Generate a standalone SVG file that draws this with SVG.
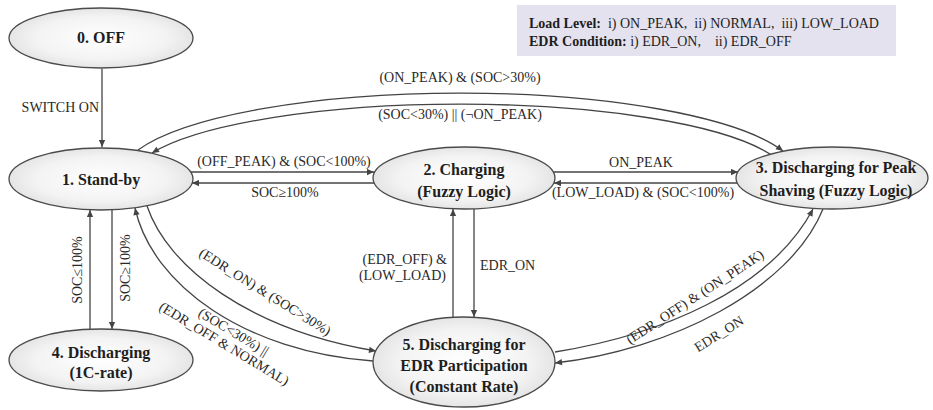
<svg xmlns="http://www.w3.org/2000/svg" width="933" height="410" viewBox="0 0 933 410" font-family="'Liberation Serif', 'DejaVu Serif', serif">
  <style>
    text { font-family: 'Liberation Serif', 'DejaVu Serif', serif; }
    .node ellipse { fill: url(#nodeFill); stroke: #4a4a4a; stroke-width: 1.3; }
    .node text { font-weight: bold; font-size: 16px; fill: #1e1e1e; text-anchor: middle; }
    .edges path { fill: none; stroke: #444; stroke-width: 1.3; marker-end: url(#arrow); }
    .lbl text { font-size: 14px; fill: #2a2a2a; }
    .mid { text-anchor: middle; }
    .end { text-anchor: end; }
    .legend text { font-size: 14px; fill: #1e1e1e; white-space: pre; }
    .legend .b { font-weight: bold; }
  </style>
  <defs>
    <radialGradient id="nodeFill" cx="50%" cy="50%" r="55%">
      <stop offset="0" stop-color="#ffffff"/>
      <stop offset="0.65" stop-color="#f3f3f3"/>
      <stop offset="1" stop-color="#e0e0e0"/>
    </radialGradient>
    <marker id="arrow" viewBox="0 0 10 10" refX="10" refY="5" markerWidth="9" markerHeight="7" markerUnits="userSpaceOnUse" orient="auto">
      <path d="M0,0.5 L10,5 L0,9.5 z" fill="#444"/>
    </marker>
  </defs>

  <rect width="933" height="410" fill="#ffffff"/>

  <!-- legend -->
  <g id="legend" class="legend">
    <rect x="517" y="5" width="379" height="51" fill="#e5e2ef"/>
    <text x="529" y="28" xml:space="preserve"><tspan class="b">Load Level:</tspan>  i) ON_PEAK,  ii) NORMAL,  iii) LOW_LOAD</text>
    <text x="529" y="46" xml:space="preserve"><tspan class="b">EDR Condition:</tspan> i) EDR_ON,    ii) EDR_OFF</text>
  </g>

  <!-- connectors -->
  <g id="connectors" class="edges">
    <path d="M102,69 L102,147"/>
    <path d="M190,172 L374,172"/>
    <path d="M374,183 L192,183"/>
    <path d="M553,172 L738,172"/>
    <path d="M737,183 L554,183"/>
    <path d="M138,150 A340,84 0 0 1 783,151"/>
    <path d="M770,154 A330,76 0 0 0 152,153"/>
    <path d="M112,210 L112,329"/>
    <path d="M90,329 L90,210"/>
    <path d="M474,209 L474,317"/>
    <path d="M453,317 L453,209"/>
    <path d="M147,206 C168,268 250,330 376,351"/>
    <path d="M373,361 C245,352 152,285 135,208"/>
    <path d="M555,352 C660,335 770,290 813,209"/>
    <path d="M823,209 C790,290 670,350 555,363"/>
  </g>

  <!-- connector labels -->
  <g id="labels" class="lbl">
    <text class="end" x="99" y="112">SWITCH ON</text>
    <text class="mid" x="284" y="166">(OFF_PEAK) &amp; (SOC&lt;100%)</text>
    <text class="mid" x="285" y="197">SOC≥100%</text>
    <text class="mid" x="641" y="167">ON_PEAK</text>
    <text class="mid" x="643" y="197">(LOW_LOAD) &amp; (SOC&lt;100%)</text>
    <text class="mid" x="460" y="82">(ON_PEAK) &amp; (SOC&gt;30%)</text>
    <text class="mid" x="460" y="119">(SOC&lt;30%) || (¬ON_PEAK)</text>
    <text class="end" x="447" y="264">(EDR_OFF) &amp;</text>
    <text class="end" x="446" y="280">(LOW_LOAD)</text>
    <text x="480" y="270">EDR_ON</text>
    <text class="mid" transform="translate(82,270) rotate(-90)">SOC≤100%</text>
    <text class="mid" transform="translate(130,268) rotate(-90)">SOC≥100%</text>
    <text class="mid" transform="translate(265,292) rotate(32)" y="4.5">(EDR_ON) &amp; (SOC&gt;30%)</text>
    <g transform="translate(230,334) rotate(31)">
      <text class="mid" x="2" y="1">(SOC&lt;30%) ||</text>
      <text class="mid" x="0" y="16">(EDR_OFF &amp; NORMAL)</text>
    </g>
    <text class="mid" transform="translate(695,297) rotate(-33)" y="4.5">(EDR_OFF) &amp; (ON_PEAK)</text>
    <text class="mid" transform="translate(719,334) rotate(-32)" y="4.5">EDR_ON</text>
  </g>

  <!-- states -->
  <g id="state0" class="node">
    <ellipse cx="101" cy="38" rx="92" ry="30"/>
    <text x="101" y="43">0. OFF</text>
  </g>
  <g id="state1" class="node">
    <ellipse cx="101" cy="179" rx="92" ry="31"/>
    <text x="101" y="185">1. Stand-by</text>
  </g>
  <g id="state2" class="node">
    <ellipse cx="464" cy="178" rx="91" ry="31"/>
    <text x="464" y="175">2. Charging</text>
    <text x="464" y="197">(Fuzzy Logic)</text>
  </g>
  <g id="state3" class="node">
    <ellipse cx="832" cy="178" rx="96" ry="31"/>
    <text x="836" y="173">3. Discharging for Peak</text>
    <text x="836" y="196">Shaving (Fuzzy Logic)</text>
  </g>
  <g id="state4" class="node">
    <ellipse cx="101" cy="360" rx="92" ry="31"/>
    <text x="101" y="358">4. Discharging</text>
    <text x="101" y="378">(1C-rate)</text>
  </g>
  <g id="state5" class="node">
    <ellipse cx="464" cy="362" rx="91" ry="45"/>
    <text x="464" y="350">5. Discharging for</text>
    <text x="464" y="371">EDR Participation</text>
    <text x="464" y="392">(Constant Rate)</text>
  </g>
</svg>
